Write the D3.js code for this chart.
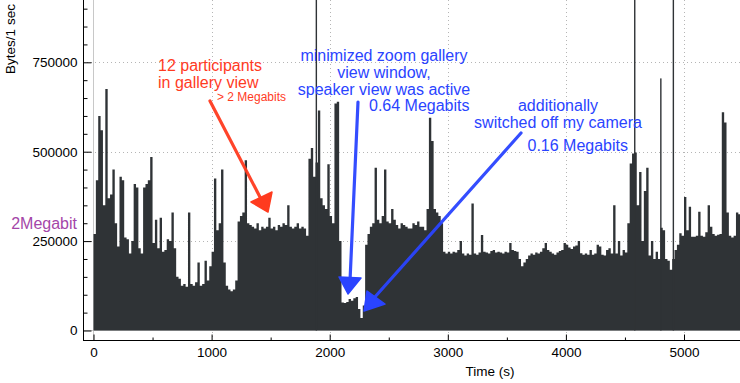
<!DOCTYPE html>
<html><head><meta charset="utf-8">
<script src="https://cdn.jsdelivr.net/npm/d3@7"></script>
<style>
html,body{margin:0;padding:0;background:#fff;}
svg{display:block;font-family:"Liberation Sans",Arial,Helvetica,sans-serif;}
</style></head>
<body>
<svg id="chart" width="740" height="383"></svg>
<script>
// ---- data (bytes per second, averaged per 20 s bin, in thousands) ----
const binSeconds = 20;
const unit = 1000;
const binValues = [
 270,420,600,560,350,675,370,380,450,300,   // 0-180
 235,430,420,260,255,215,250,410,400,230,   // 200-380
 215,400,410,420,485,245,310,230,315,220,   // 400-580
 225,255,250,330,230,150,145,125,130,122,   // 600-780
 330,130,125,135,190,125,130,195,140,180,   // 800-980
 220,425,280,300,450,190,125,115,110,115,   // 1000-1180
 140,305,320,330,476,300,295,290,285,300,   // 1200-1380
 280,290,285,290,315,285,290,280,295,290,   // 1400-1580
 300,295,350,290,285,290,300,285,290,285,   // 1600-1780
 265,480,510,430,470,615,370,350,340,465,   // 1800-1980
 320,300,635,640,250,78,77,80,88,83,        // 2000-2180
 90,94,60,35,70,240,270,290,300,455,        // 2200-2380
 310,300,320,450,305,300,340,310,295,285,   // 2400-2580
 300,295,290,285,285,300,295,305,290,290,   // 2600-2780
 280,340,595,530,340,330,320,300,220,215,   // 2800-2980
 220,215,220,218,225,250,215,210,215,212,   // 3000-3180
 355,215,212,218,267,220,218,215,222,225,   // 3200-3380
 218,220,218,215,220,218,245,225,222,220,   // 3400-3580
 200,180,190,200,210,215,212,218,215,220,   // 3600-3780
 230,245,225,220,215,212,218,222,225,245,   // 3800-3980
 240,232,228,235,238,250,216,212,215,212,   // 4000-4180
 225,212,215,240,235,212,210,225,230,215,   // 4200-4380
 350,215,250,210,225,218,300,467,495,498,   // 4400-4580
 350,443,250,390,455,210,250,200,220,200,   // 4600-4780
 287,280,200,195,170,200,225,240,272,265,   // 4800-4980
 373,280,346,262,262,265,332,265,262,275,   // 5000-5180
 350,290,270,265,268,270,610,582,330,265,   // 5200-5380
 260,265,330,325                            // 5400-5460
];
// single-second bursts
const spikeTimes  = [1881, 4577, 4904, 4798];
const spikeValues = [1000, 1000, 1000, 705];

const xTicks = [0, 1000, 2000, 3000, 4000, 5000];
const xMinorTicks = [500, 1500, 2500, 3500, 4500, 5500];
const yTicks = [0, 250000, 500000, 750000];
const yMinorTicks = [50000,100000,150000,200000,300000,350000,400000,450000,550000,600000,650000,700000,800000,850000,900000];
const xLabel = "Time (s)";
const yLabel = "Bytes/1 sec";
const refLabel = "2Megabit";
const refValue = 250000;

const redLines = ["12 participants", "in gallery view"];
const redSmall = "> 2 Megabits";
const blueLines1 = ["minimized zoom gallery", "view window,", "speaker view was active"];
const blueSub1 = "0.64 Megabits";
const blueLines2 = ["additionally", "switched off my camera"];
const blueSub2 = "0.16 Megabits";

// ---- layout ----
const frameLeft = 83, frameBottom = 340, frameTop = 0, frameRight = 740;
const svg = d3.select("#chart");

const x = d3.scaleLinear().domain([0, 5000]).range([93.5, 684]);
const y = d3.scaleLinear().domain([0, 750000]).range([330.5, 62.3]);

const bins = binValues.map((v, i) => ({t: i * binSeconds, v: v * unit}));
const stepPts = bins.concat([{t: bins.length * binSeconds, v: bins[bins.length - 1].v}]);
const spikes = spikeTimes.map((t, i) => ({t, v: spikeValues[i] * unit}));

svg.append("defs").append("clipPath").attr("id", "plotclip")
  .append("rect").attr("x", frameLeft).attr("y", frameTop)
  .attr("width", frameRight - frameLeft).attr("height", frameBottom - frameTop);

const plot = svg.append("g").attr("clip-path", "url(#plotclip)");

// grid
const gridColor = "#b5b5b5";
plot.selectAll("line.hgrid").data(yTicks.filter(d => d > 0)).join("line")
  .attr("x1", frameLeft).attr("x2", frameRight)
  .attr("y1", d => Math.round(y(d)) + 0.5).attr("y2", d => Math.round(y(d)) + 0.5)
  .attr("stroke", gridColor).attr("stroke-dasharray", "1,3");
plot.selectAll("line.vgrid").data(xTicks.filter(d => d > 0)).join("line")
  .attr("y1", frameTop).attr("y2", frameBottom)
  .attr("x1", d => Math.round(x(d)) + 0.5).attr("x2", d => Math.round(x(d)) + 0.5)
  .attr("stroke", gridColor).attr("stroke-dasharray", "1,3");
// zero lines
plot.append("line").attr("x1", Math.round(x(0)) - 0.5).attr("x2", Math.round(x(0)) - 0.5)
  .attr("y1", frameTop).attr("y2", frameBottom).attr("stroke", "#c8c8c8");
plot.append("line").attr("x1", frameLeft).attr("x2", frameRight)
  .attr("y1", y(0)).attr("y2", y(0)).attr("stroke", "#c8c8c8");

// bars as a stepped area (no seams between adjacent bins)
const barColor = "#2f3336";
const area = d3.area().curve(d3.curveStepAfter)
  .x(d => x(d.t)).y0(y(0)).y1(d => y(d.v));
plot.append("path").datum(stepPts).attr("d", area).attr("fill", barColor);
plot.selectAll("rect.spike").data(spikes).join("rect")
  .attr("class", "spike")
  .attr("x", d => x(d.t))
  .attr("width", 1.4)
  .attr("y", d => y(d.v))
  .attr("height", d => y(0) - y(d.v))
  .attr("fill", barColor);

// axes
const fontSize = "13.5px";
const yAxis = svg.append("g").attr("transform", `translate(${frameLeft + 0.5},0)`)
  .call(d3.axisLeft(y).tickValues(yTicks).tickSize(-8).tickPadding(6).tickFormat(d3.format("d")));
yAxis.select(".domain").remove();
yAxis.selectAll("text").attr("font-size", fontSize).attr("fill", "#000")
  .attr("font-family", '"Liberation Sans",Arial,sans-serif');
const yAxisMinor = svg.append("g").attr("transform", `translate(${frameLeft + 0.5},0)`)
  .call(d3.axisLeft(y).tickValues(yMinorTicks).tickSize(-4).tickFormat(""));
yAxisMinor.select(".domain").remove();

const xAxis = svg.append("g").attr("transform", `translate(0,${frameBottom + 0.5})`)
  .call(d3.axisBottom(x).tickValues(xTicks).tickSize(-6).tickPadding(7).tickFormat(d3.format("d")));
xAxis.select(".domain").remove();
xAxis.selectAll("text").attr("font-size", fontSize).attr("fill", "#000")
  .attr("font-family", '"Liberation Sans",Arial,sans-serif');
const xAxisMinor = svg.append("g").attr("transform", `translate(0,${frameBottom + 0.5})`)
  .call(d3.axisBottom(x).tickValues(xMinorTicks.filter(d => x(d) < frameRight)).tickSize(-3).tickFormat(""));
xAxisMinor.select(".domain").remove();

svg.append("line").attr("x1", frameLeft + 0.5).attr("x2", frameLeft + 0.5)
  .attr("y1", frameTop).attr("y2", frameBottom + 1).attr("stroke", "#000");
svg.append("line").attr("x1", frameLeft).attr("x2", frameRight)
  .attr("y1", frameBottom + 0.5).attr("y2", frameBottom + 0.5).attr("stroke", "#000");

svg.append("text").attr("x", 490).attr("y", 376).attr("text-anchor", "middle")
  .attr("font-size", fontSize).text(xLabel);
svg.append("text").attr("transform", "translate(15,39) rotate(-90)").attr("text-anchor", "middle")
  .attr("font-size", fontSize).text(yLabel);
svg.append("text").attr("x", 77).attr("y", y(refValue) - 12).attr("text-anchor", "end")
  .attr("font-size", "16px").attr("fill", "#a446a8").text(refLabel);

// annotations
const red = "#ff3b1f", blue = "#2a44ff";
const ann = svg.append("g");
ann.append("text").attr("x", 158).attr("y", 71).attr("font-size", "16px").attr("fill", red)
  .selectAll("tspan").data(redLines).join("tspan")
  .attr("x", 158).attr("dy", (d, i) => i ? 16.5 : 0).text(d => d);
ann.append("text").attr("x", 217).attr("y", 101).attr("font-size", "12px").attr("fill", red).text(redSmall);

ann.append("text").attr("y", 60.5).attr("font-size", "16px").attr("fill", blue).attr("text-anchor", "middle")
  .selectAll("tspan").data(blueLines1).join("tspan")
  .attr("x", 384).attr("dy", (d, i) => i ? 17 : 0).text(d => d);
ann.append("text").attr("x", 369).attr("y", 110.5).attr("font-size", "16px").attr("fill", blue).text(blueSub1);

ann.append("text").attr("y", 110.5).attr("font-size", "16px").attr("fill", blue).attr("text-anchor", "middle")
  .selectAll("tspan").data(blueLines2).join("tspan")
  .attr("x", 558).attr("dy", (d, i) => i ? 17 : 0).text(d => d);
ann.append("text").attr("x", 527.5).attr("y", 150.5).attr("font-size", "16px").attr("fill", blue).text(blueSub2);

function arrow(color, p0, p1, head) {
  ann.append("line").attr("x1", p0[0]).attr("y1", p0[1]).attr("x2", p1[0]).attr("y2", p1[1])
    .attr("stroke", color).attr("stroke-width", 3.2).attr("stroke-linecap", "round").attr("opacity", 0.95);
  ann.append("polygon").attr("points", head.map(p => p.join(",")).join(" "))
    .attr("fill", color).attr("stroke", color).attr("stroke-width", 1.5).attr("stroke-linejoin", "round");
}
arrow(red, [210, 101], [261, 199], [[251, 202], [272, 192], [268, 212]]);
arrow(blue, [358, 102], [350, 281], [[339, 277], [361, 278], [348, 294]]);
arrow(blue, [521, 133], [374, 298], [[367, 291], [385, 304], [364, 311]]);
</script>
</body></html>
